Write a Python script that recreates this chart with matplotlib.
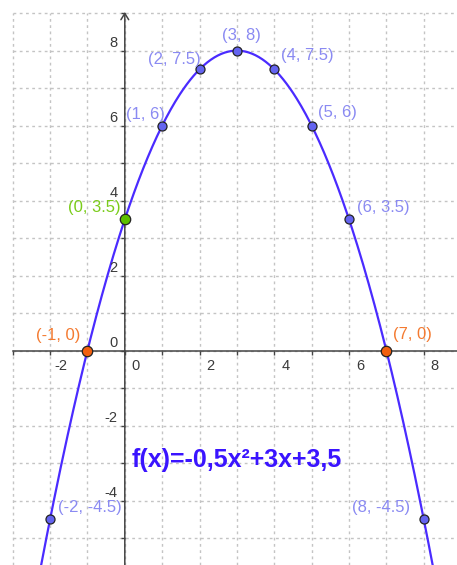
import numpy as np
import matplotlib.pyplot as plt

# f(x) = a*x^2 + b*x + c
coef_a, coef_b, coef_c = -0.5, 3, 3.5
formula = "f(x)=-0,5x²+3x+3,5"

point_x = [-2, -1, 0, 1, 2, 3, 4, 5, 6, 7, 8]
point_y = [-4.5, 0, 3.5, 6, 7.5, 8, 7.5, 6, 3.5, 0, -4.5]
point_labels = ["(-2, -4.5)", "(-1, 0)", "(0, 3.5)", "(1, 6)", "(2, 7.5)", "(3, 8)",
                "(4, 7.5)", "(5, 6)", "(6, 3.5)", "(7, 0)", "(8, -4.5)"]
point_kind = ["pt", "root", "yint", "pt", "pt", "pt", "pt", "pt", "pt", "root", "pt"]

x_ticks = list(range(-3, 9))
y_ticks = list(range(-5, 10))
x_tick_labels = [-2, 0, 2, 4, 6, 8]
y_tick_labels = [-4, -2, 0, 2, 4, 6, 8]

# label offsets in pixels (dx, dy)
label_offsets = [(40, 12), (-29, 15), (-30, 12), (-17, 11), (-25, 10), (5, 15),
                 (33, 14), (26, 13), (34, 12), (26, 16), (-43, 12)]

fill_colors = {"pt": "#6464f0", "root": "#f26010", "yint": "#5cbf00"}
text_colors = {"pt": "#8a8af2", "root": "#f47a30", "yint": "#7acc1a"}
curve_color = "#4a2bff"
axis_color = "#444444"

xmin, xmax = -3.34, 8.89
ymin, ymax = -5.72, 9.35

fig = plt.figure(figsize=(4.57, 5.65), dpi=100)
ax = fig.add_axes([0, 0, 1, 1])
ax.set_xlim(xmin, xmax)
ax.set_ylim(ymin, ymax)
ax.axis("off")

# grid
grid_style = dict(color="#c4c4c4", linewidth=1, linestyle=(0, (2, 2.5)), zorder=0)
ax.hlines(y_ticks, -3, xmax, **grid_style)
ax.vlines(x_ticks, ymin, 9, **grid_style)

# axes
ax.plot([-3, xmax], [0, 0], color=axis_color, linewidth=1.1, zorder=1)
ax.annotate("", xy=(0, 9.03), xytext=(0, ymin),
            arrowprops=dict(arrowstyle="->,head_length=0.45,head_width=0.28",
                            color=axis_color, linewidth=1.1, shrinkA=0, shrinkB=0),
            zorder=1)
ax.plot(x_ticks, [0] * len(x_ticks), linestyle="none", marker=3, markersize=3,
        markeredgewidth=1, color=axis_color, zorder=1)
ax.plot([0] * len(y_ticks), y_ticks, linestyle="none", marker=0, markersize=3,
        markeredgewidth=1, color=axis_color, zorder=1)

for v in x_tick_labels:
    ax.annotate(str(v), (v, 0), xytext=(11, -15), textcoords="offset pixels",
                ha="center", va="center", fontsize=10.5, color="#3a3a3a",
                family="Liberation Sans")
for v in y_tick_labels:
    ax.annotate(str(v), (0, v), xytext=(-7, 8), textcoords="offset pixels",
                ha="right", va="center", fontsize=10.5, color="#3a3a3a",
                family="Liberation Sans")

# curve
xs = np.linspace(xmin, xmax, 400)
ax.plot(xs, coef_a * xs ** 2 + coef_b * xs + coef_c, color=curve_color,
        linewidth=1.6, zorder=2)

# points and labels
for x, y, lab, kind, off in zip(point_x, point_y, point_labels, point_kind, label_offsets):
    size = 7.5 if kind != "pt" else 6.5
    ax.plot(x, y, marker="o", markersize=size, markerfacecolor=fill_colors[kind],
            markeredgecolor="#222222", markeredgewidth=0.9, zorder=3)
    ax.annotate(lab, (x, y), xytext=off, textcoords="offset pixels",
                ha="center", va="center", fontsize=12, color=text_colors[kind],
                family="Liberation Sans", zorder=4)

ax.text(0.19, -2.92, formula, ha="left", va="center", fontsize=18,
        fontweight="bold", color="#3a14ff", family="Liberation Sans", zorder=4)

fig.savefig("out.png", dpi=100)
